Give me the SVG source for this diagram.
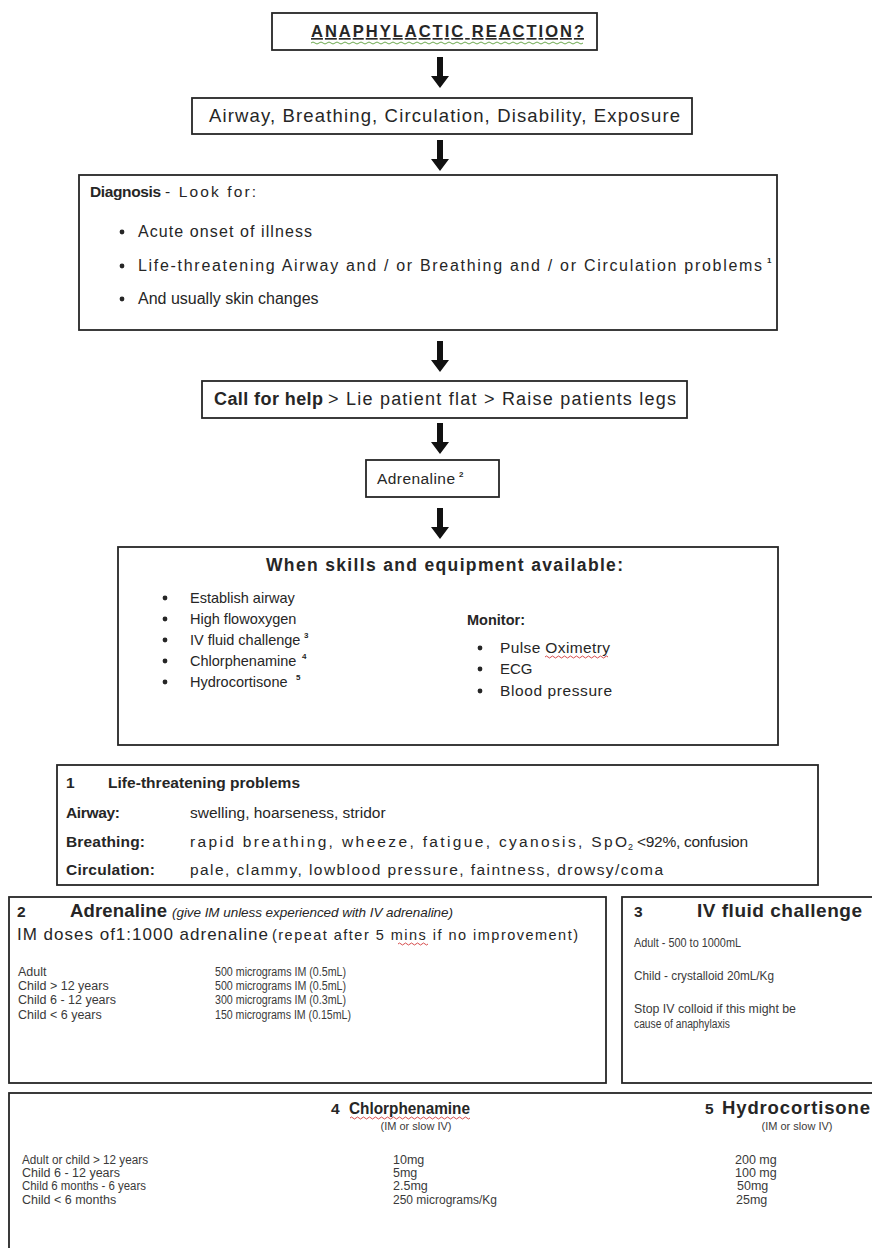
<svg xmlns="http://www.w3.org/2000/svg" xmlns:xlink="http://www.w3.org/1999/xlink" width="872" height="1248" viewBox="0 0 872 1248">
<style>
text{font-family:"Liberation Sans",Arial,sans-serif;fill:#262626}
.box{fill:#fff;stroke:#262626;stroke-width:1.8}
.b{font-weight:bold}
.t12{font-size:12.5px;fill:#3a3a3a}
.t11{font-size:11px;fill:#3a3a3a}
.sup{font-size:8px;font-weight:bold}
.arrow{fill:#111}
.dot{fill:#262626}
.wavy{fill:none;stroke-width:0.9}
</style>
<defs>
<path id="arr" d="M-3,0 H3 V19 H9 L0,31 L-9,19 H-3 Z"/>
</defs>
<rect width="872" height="1248" fill="#fff"/>

<g id="connectors" class="arrow">
<use xlink:href="#arr" href="#arr" x="440" y="57"/>
<use xlink:href="#arr" href="#arr" x="440" y="140"/>
<use xlink:href="#arr" href="#arr" x="440" y="341"/>
<use xlink:href="#arr" href="#arr" x="440" y="423"/>
<use xlink:href="#arr" href="#arr" x="440" y="508"/>
</g>

<g id="n-anaphylactic">
<rect class="box" x="272" y="13" width="325" height="37"/>
<text class="b" font-size="16.5" x="311" y="37" textLength="273" lengthAdjust="spacing" text-decoration="underline">ANAPHYLACTIC REACTION?</text>
<path class="wavy" stroke="#5a9e3a" d="M311,43 q2,-2 4,0 t4,0 t4,0 t4,0 t4,0 t4,0 t4,0 t4,0 t4,0 t4,0 t4,0 t4,0 t4,0 t4,0 t4,0 t4,0 t4,0 t4,0 t4,0 t4,0 t4,0 t4,0 t4,0 t4,0 t4,0 t4,0 t4,0 t4,0 t4,0 t4,0 t4,0 t4,0 t4,0 t4,0 t4,0 t4,0 t4,0 t4,0 t4,0 t4,0 t4,0 t4,0 t4,0 t4,0 t4,0 t4,0 t4,0 t4,0 t4,0 t4,0 t4,0 t4,0 t4,0 t4,0 t4,0 t4,0 t4,0 t4,0 t4,0 t4,0 t4,0 t4,0 t4,0 t4,0 t4,0 t4,0 t4,0 t4,0"/>
</g>

<g id="n-abcde">
<rect class="box" x="192" y="98" width="500" height="36"/>
<text font-size="18.5" x="209" y="122" textLength="471" lengthAdjust="spacing">Airway, Breathing, Circulation, Disability, Exposure</text>
</g>

<g id="n-diagnosis">
<rect class="box" x="79" y="175" width="698" height="155"/>
<text class="b" font-size="15.5" x="90" y="197" textLength="71" lengthAdjust="spacing">Diagnosis</text>
<text font-size="15.5" x="165" y="197" textLength="91" lengthAdjust="spacing">- Look for:</text>
<circle class="dot" cx="122" cy="232" r="2.4"/>
<text font-size="16" x="138" y="237" textLength="174" lengthAdjust="spacing">Acute onset of illness</text>
<circle class="dot" cx="122" cy="266" r="2.4"/>
<text font-size="16" x="138" y="271" textLength="624" lengthAdjust="spacing">Life-threatening Airway and / or Breathing and / or Circulation problems</text>
<text class="sup" x="767" y="263">1</text>
<circle class="dot" cx="122" cy="299" r="2.4"/>
<text font-size="16" x="138" y="304">And usually skin changes</text>
</g>

<g id="n-callhelp">
<rect class="box" x="202" y="381" width="485" height="37"/>
<text class="b" font-size="18" x="214" y="405" textLength="109" lengthAdjust="spacing">Call for help</text>
<text font-size="18" x="328" y="405" textLength="348" lengthAdjust="spacing">&gt; Lie patient flat &gt; Raise patients legs</text>
</g>

<g id="n-adrenaline">
<rect class="box" x="366" y="460" width="133" height="37"/>
<text font-size="15.5" x="377" y="484" textLength="78" lengthAdjust="spacing">Adrenaline</text>
<text class="sup" x="459" y="477">2</text>
</g>

<g id="n-skills">
<rect class="box" x="118" y="547" width="660" height="198"/>
<text class="b" font-size="17.5" x="266" y="571" textLength="357" lengthAdjust="spacing">When skills and equipment available:</text>
<circle class="dot" cx="165" cy="598" r="2.4"/>
<text font-size="14.5" x="190" y="603">Establish airway</text>
<circle class="dot" cx="165" cy="619" r="2.4"/>
<text font-size="14.5" x="190" y="624">High flowoxygen</text>
<circle class="dot" cx="165" cy="640" r="2.4"/>
<text font-size="14.5" x="190" y="645">IV fluid challenge</text>
<text class="sup" x="304" y="638">3</text>
<circle class="dot" cx="165" cy="661" r="2.4"/>
<text font-size="14.5" x="190" y="666">Chlorphenamine</text>
<text class="sup" x="302" y="659">4</text>
<circle class="dot" cx="165" cy="682" r="2.4"/>
<text font-size="14.5" x="190" y="687">Hydrocortisone</text>
<text class="sup" x="296" y="680">5</text>
<text class="b" font-size="14.5" x="467" y="625">Monitor:</text>
<circle class="dot" cx="480" cy="648" r="2.4"/>
<text font-size="15.5" x="500" y="653" textLength="110" lengthAdjust="spacing">Pulse Oximetry</text>
<path class="wavy" stroke="#d23a3a" d="M545,657 q1.5,-2 3,0 t3,0 t3,0 t3,0 t3,0 t3,0 t3,0 t3,0 t3,0 t3,0 t3,0 t3,0 t3,0 t3,0 t3,0 t3,0 t3,0 t3,0 t3,0 t3,0 t3,0"/>
<circle class="dot" cx="480" cy="669" r="2.4"/>
<text font-size="15" x="500" y="674">ECG</text>
<circle class="dot" cx="480" cy="691" r="2.4"/>
<text font-size="15.5" x="500" y="696" textLength="112" lengthAdjust="spacing">Blood pressure</text>
</g>

<g id="n-lifethreat">
<rect class="box" x="57" y="765" width="761" height="120"/>
<text class="b" font-size="15.5" x="66" y="788">1</text>
<text class="b" font-size="15.5" x="108" y="788" textLength="192" lengthAdjust="spacing">Life-threatening problems</text>
<text class="b" font-size="15.5" x="66" y="818" textLength="54" lengthAdjust="spacing">Airway:</text>
<text font-size="15.5" x="190" y="818">swelling, hoarseness, stridor</text>
<text class="b" font-size="15.5" x="66" y="847" textLength="79" lengthAdjust="spacing">Breathing:</text>
<text font-size="15.5" x="190" y="847" textLength="437" lengthAdjust="spacing">rapid breathing, wheeze, fatigue, cyanosis, SpO</text>
<text font-size="9" x="628" y="850">2</text>
<text font-size="15.5" x="637" y="847" textLength="111" lengthAdjust="spacing">&lt;92%, confusion</text>
<text class="b" font-size="15.5" x="66" y="875" textLength="89" lengthAdjust="spacing">Circulation:</text>
<text font-size="15.5" x="190" y="875" textLength="473" lengthAdjust="spacing">pale, clammy, lowblood pressure, faintness, drowsy/coma</text>
</g>

<g id="n-adrenaline-dose">
<rect class="box" x="9" y="897" width="597" height="186"/>
<text class="b" font-size="15.5" x="17" y="917">2</text>
<text class="b" font-size="18.5" x="70" y="917" textLength="97" lengthAdjust="spacing">Adrenaline</text>
<text font-size="13.5" font-style="italic" fill="#3a3a3a" x="172" y="917" textLength="281" lengthAdjust="spacing">(give IM unless experienced with IV adrenaline)</text>
<text font-size="17" x="17" y="940" textLength="251" lengthAdjust="spacing">IM doses of1:1000 adrenaline</text>
<text font-size="14.5" fill="#3a3a3a" x="272" y="940" textLength="306" lengthAdjust="spacing">(repeat after 5 mins if no improvement)</text>
<path class="wavy" stroke="#d23a3a" d="M398,944 q1.5,-2 3,0 t3,0 t3,0 t3,0 t3,0 t3,0 t3,0 t3,0 t3,0 t3,0"/>
<text class="t12" x="18" y="976">Adult</text>
<text class="t12" x="18" y="990">Child &gt; 12 years</text>
<text class="t12" x="18" y="1004">Child 6 - 12 years</text>
<text class="t12" x="18" y="1019">Child &lt; 6 years</text>
<text class="t12" x="215" y="976" textLength="131" lengthAdjust="spacingAndGlyphs">500 micrograms IM (0.5mL)</text>
<text class="t12" x="215" y="990" textLength="131" lengthAdjust="spacingAndGlyphs">500 micrograms IM (0.5mL)</text>
<text class="t12" x="215" y="1004" textLength="131" lengthAdjust="spacingAndGlyphs">300 micrograms IM (0.3mL)</text>
<text class="t12" x="215" y="1019" textLength="136" lengthAdjust="spacingAndGlyphs">150 micrograms IM (0.15mL)</text>
</g>

<g id="n-ivfluid">
<rect class="box" x="622" y="897" width="252" height="186"/>
<text class="b" font-size="15.5" x="634" y="917">3</text>
<text class="b" font-size="19" x="697" y="917" textLength="165" lengthAdjust="spacing">IV fluid challenge</text>
<text class="t12" x="634" y="947" textLength="107" lengthAdjust="spacingAndGlyphs">Adult - 500  to 1000mL</text>
<text class="t12" x="634" y="980" textLength="140" lengthAdjust="spacingAndGlyphs">Child - crystalloid 20mL/Kg</text>
<text class="t12" x="634" y="1013" textLength="162" lengthAdjust="spacingAndGlyphs">Stop IV colloid if this might be</text>
<text class="t12" x="634" y="1028" textLength="96" lengthAdjust="spacingAndGlyphs">cause of anaphylaxis</text>
</g>

<g id="n-chlor-hydro">
<rect class="box" x="9" y="1093" width="866" height="160"/>
<text class="b" font-size="15.5" x="331" y="1114">4</text>
<text class="b" font-size="16" x="349" y="1114" textLength="121" lengthAdjust="spacingAndGlyphs">Chlorphenamine</text>
<path class="wavy" stroke="#d23a3a" d="M350,1118 q1.5,-2 3,0 t3,0 t3,0 t3,0 t3,0 t3,0 t3,0 t3,0 t3,0 t3,0 t3,0 t3,0 t3,0 t3,0 t3,0 t3,0 t3,0 t3,0 t3,0 t3,0 t3,0 t3,0 t3,0 t3,0 t3,0 t3,0 t3,0 t3,0 t3,0 t3,0 t3,0 t3,0 t3,0 t3,0 t3,0 t3,0 t3,0 t3,0 t3,0 t3,0"/>
<text class="t11" x="416" y="1130" text-anchor="middle">(IM or slow IV)</text>
<text class="b" font-size="15.5" x="705" y="1114">5</text>
<text class="b" font-size="18.5" x="722" y="1114" textLength="148" lengthAdjust="spacing">Hydrocortisone</text>
<text class="t11" x="797" y="1130" text-anchor="middle">(IM or slow IV)</text>
<text class="t12" x="22" y="1164" textLength="126" lengthAdjust="spacingAndGlyphs">Adult or child &gt; 12 years</text>
<text class="t12" x="22" y="1177">Child 6 - 12 years</text>
<text class="t12" x="22" y="1190" textLength="124" lengthAdjust="spacingAndGlyphs">Child 6 months - 6 years</text>
<text class="t12" x="22" y="1204">Child &lt; 6 months</text>
<text class="t12" x="393" y="1164">10mg</text>
<text class="t12" x="393" y="1177">5mg</text>
<text class="t12" x="393" y="1190">2.5mg</text>
<text class="t12" x="393" y="1204" textLength="104" lengthAdjust="spacingAndGlyphs">250 micrograms/Kg</text>
<text class="t12" x="735" y="1164">200 mg</text>
<text class="t12" x="735" y="1177">100 mg</text>
<text class="t12" x="737" y="1190">50mg</text>
<text class="t12" x="736" y="1204">25mg</text>
</g>
</svg>
